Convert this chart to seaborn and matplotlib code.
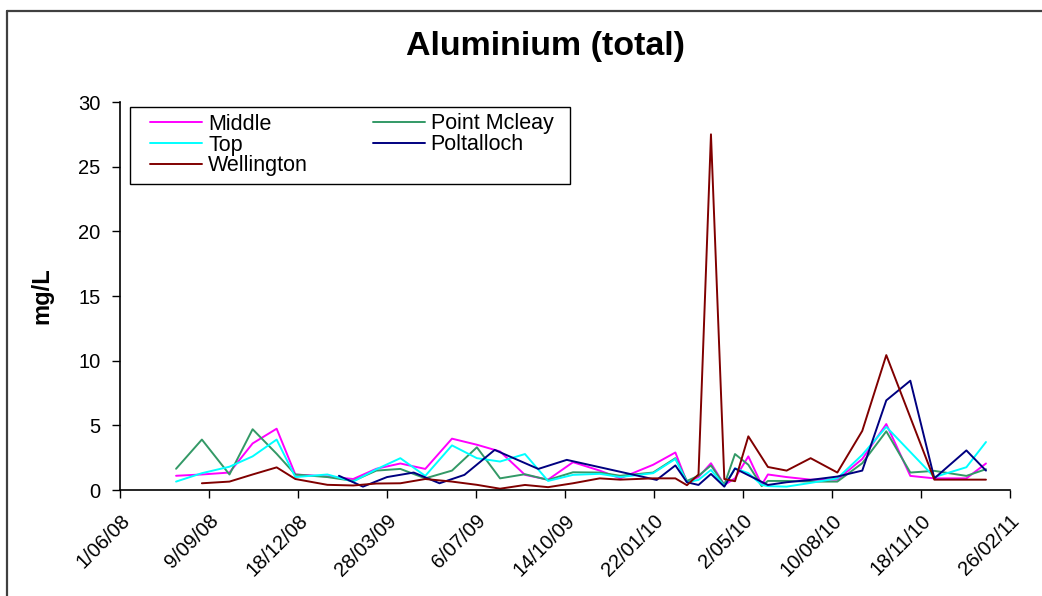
import matplotlib
matplotlib.use("Agg")
import matplotlib.pyplot as plt
from matplotlib.lines import Line2D
from matplotlib.patches import Rectangle
import seaborn as sns
import pandas as pd

# ---------------- data ----------------
sample_dates = [
    "2008-08-03", "2008-09-01", "2008-10-02", "2008-10-28", "2008-11-24", "2008-12-15",
    "2009-01-20", "2009-02-18", "2009-03-16", "2009-04-12", "2009-05-10", "2009-06-09",
    "2009-07-07", "2009-08-02", "2009-08-30", "2009-09-25", "2009-10-23", "2009-11-22",
    "2009-12-15", "2010-01-21", "2010-02-15", "2010-02-28", "2010-03-13", "2010-03-27",
    "2010-04-11", "2010-04-23", "2010-05-08", "2010-05-23", "2010-05-30", "2010-06-20",
    "2010-07-17", "2010-08-16", "2010-09-13", "2010-10-10", "2010-11-06", "2010-12-03",
    "2011-01-08", "2011-01-30",
]
middle = [1.1, 1.2, 1.35, 3.6, 4.74, 1.2, 1.05, 0.85, 1.64, 2.05, 1.63, 3.97,
          3.5, 2.98, 1.17, 0.8, 2.15, 1.5, 0.9, 1.95, 2.9, 0.6, 1.0, 2.07,
          0.39, 0.9, 2.6, 0.4, 1.2, 1.0, 0.8, 0.8, 2.4, 5.1, 1.09, 0.9, 0.9, 2.05]
top = [0.65, 1.3, 1.8, 2.6, 3.9, 1.0, 1.2, 0.65, 1.6, 2.46, 1.09, 3.45,
       2.46, 2.2, 2.78, 0.7, 1.17, 1.25, 1.0, 1.3, 2.4, 0.6, 0.78, 1.55,
       0.3, 1.68, 1.3, 0.4, 0.3, 0.26, 0.55, 0.9, 2.72, 4.88, None, 1.0, 1.76, 3.71]
point_mcleay = [1.64, 3.9, 1.2, 4.7, 2.8, 1.2, 1.0, 0.7, 1.5, 1.63, 0.9, 1.5,
                3.3, 0.9, 1.22, 0.78, 1.37, 1.35, 1.1, 1.35, 2.46, 0.7, 1.1, 1.9,
                0.4, 2.78, 1.95, 0.3, 0.7, 0.7, 0.65, 0.65, 2.07, 4.54, 1.35, 1.48, 1.09, 1.61]
wellington = [None, 0.52, 0.65, 1.2, 1.75, 0.85, 0.4, 0.35, 0.5, 0.52, 0.85, 0.65,
              0.4, 0.1, 0.39, 0.22, 0.52, 0.9, 0.8, 0.9, 0.9, 0.37, 1.2, 27.5,
              0.85, 0.68, 4.15, None, 1.78, 1.5, 2.46, 1.35, 4.57, 10.43, None, 0.8, 0.8, 0.8]

poltalloch_dates = [
    "2009-02-02", "2009-03-01", "2009-03-28", "2009-04-27", "2009-05-26", "2009-06-23",
    "2009-07-27", "2009-09-14", "2009-10-16", "2010-01-25", "2010-02-15", "2010-02-28",
    "2010-03-13", "2010-03-27", "2010-04-11", "2010-04-23", "2010-05-30", "2010-06-20",
    "2010-07-17", "2010-08-16", "2010-09-13", "2010-10-10", "2010-11-06", "2010-12-03",
    "2011-01-08", "2011-01-30",
]
poltalloch = [1.1, 0.26, 1.0, 1.35, 0.52, 1.17, 3.1, 1.63, 2.33, 0.78, 1.9, 0.6,
              0.39, 1.24, 0.26, 1.66, 0.39, 0.6, 0.78, 1.04, 1.5, 6.93, 8.45, 0.9,
              3.06, 1.5]

sites = ["Middle", "Point Mcleay", "Top", "Poltalloch", "Wellington"]
colors = {"Middle": "#FF00FF", "Point Mcleay": "#339966", "Top": "#00FFFF",
          "Poltalloch": "#000080", "Wellington": "#800000"}
x_ticks = ["2008-06-01", "2008-09-09", "2008-12-18", "2009-03-28", "2009-07-06",
           "2009-10-14", "2010-01-22", "2010-05-02", "2010-08-10", "2010-11-18",
           "2011-02-26"]
y_ticks = [0, 5, 10, 15, 20, 25, 30]

# ---------------- long-form table ----------------
rows = []
for name, vals in [("Middle", middle), ("Top", top), ("Point Mcleay", point_mcleay),
                   ("Wellington", wellington)]:
    for d, v in zip(sample_dates, vals):
        if v is not None:
            rows.append((pd.Timestamp(d), name, v))
for d, v in zip(poltalloch_dates, poltalloch):
    rows.append((pd.Timestamp(d), "Poltalloch", v))
df = pd.DataFrame(rows, columns=["date", "site", "value"])

# ---------------- plot ----------------
sns.set_style("white")
plt.rcParams["font.family"] = ["Liberation Sans", "DejaVu Sans"]
plt.rcParams["text.color"] = "black"
plt.rcParams["axes.labelcolor"] = "black"
plt.rcParams["xtick.color"] = "black"
plt.rcParams["ytick.color"] = "black"

fig = plt.figure(figsize=(10.42, 5.96), dpi=100)
ax = fig.add_axes([120 / 1042, 106 / 596, 890 / 1042, 388 / 596])

sns.lineplot(data=df, x="date", y="value", hue="site", hue_order=sites,
             palette=colors, linewidth=1.4, errorbar=None, ax=ax, legend=False)

xt = [pd.Timestamp(t) for t in x_ticks]
ax.set_xlim(xt[0], xt[-1])
ax.set_ylim(0, 30)
ax.set_xticks(xt)
ax.set_xticklabels([f"{t.day}/{t.month:02d}/{t.year % 100:02d}" for t in xt],
                   rotation=45, ha="right", rotation_mode="anchor", fontsize=14.5)
ax.set_yticks(y_ticks)
ax.set_yticklabels([str(v) for v in y_ticks], fontsize=14.5)
ax.tick_params(axis="both", direction="out", length=6, width=1, color="black",
               labelcolor="black", left=True, bottom=True)
ax.tick_params(axis="x", pad=9)
ax.tick_params(axis="y", pad=8)
for s in ["top", "right"]:
    ax.spines[s].set_visible(False)
for s in ["left", "bottom"]:
    ax.spines[s].set_color("black")
    ax.spines[s].set_linewidth(1.2)

ax.set_xlabel("")
ax.set_ylabel("mg/L", fontsize=17, fontweight="bold", labelpad=18, color="black")
fig.text(546 / 1042, 1 - 46 / 596, "Aluminium (total)", fontsize=24.5,
         fontweight="bold", ha="center", va="center", color="black")

# legend box (drawn separately) and contents
ax.add_patch(Rectangle((10 / 890, (490 - 184) / 388), 440 / 890, 77 / 388,
                       transform=ax.transAxes, facecolor="white",
                       edgecolor="black", lw=1.0, zorder=4, clip_on=False))
order = ["Middle", "Top", "Wellington", "Point Mcleay", "Poltalloch"]
handles = [Line2D([0], [0], color=colors[n], lw=1.4) for n in order]
leg = ax.legend(handles, order, ncol=2, loc="upper left",
                bbox_to_anchor=(30 / 890, (490 - 113.5) / 388), borderaxespad=0,
                fontsize=15.5, frameon=False,
                handlelength=2.42, handletextpad=0.28, labelspacing=0.0,
                columnspacing=3.0, borderpad=0.0)
leg.set_zorder(5)
for t in leg.get_texts():
    t.set_color("black")

# chart-area border (top and left)
fig.add_artist(Line2D([7 / 1042, 1.0], [1 - 11 / 596, 1 - 11 / 596],
                      transform=fig.transFigure, color="#404040", lw=1.6))
fig.add_artist(Line2D([7 / 1042, 7 / 1042], [0.0, 1 - 11 / 596],
                      transform=fig.transFigure, color="#404040", lw=1.6))

fig.savefig("out.png", dpi=100)
